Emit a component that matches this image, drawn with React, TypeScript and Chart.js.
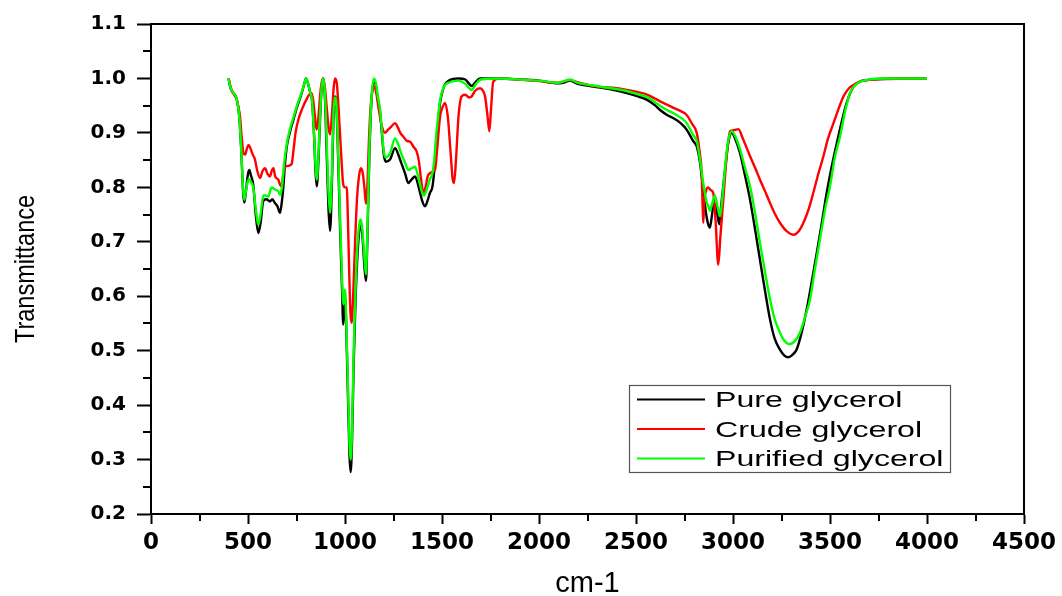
import React, { useEffect, useRef } from "react";
import { Chart, registerables } from "chart.js";

Chart.register(...registerables);

// FT-IR spectra: wavenumber (cm-1) and transmittance for each sample
const pureWavenumber = [
  400, 410, 420, 442, 455, 465, 475, 481, 490, 500, 507, 515, 527, 540, 553, 565, 579, 595, 613, 625, 639, 652, 665,
  675, 682, 690, 700, 715, 734, 755, 777, 790, 799, 810, 820, 830, 840, 848, 854, 862, 872, 880, 888, 896, 905, 915,
  923, 932, 940, 948, 956, 965, 975, 985, 991, 996, 1000, 1006, 1015, 1023, 1029, 1036, 1045, 1055, 1065, 1075, 1082,
  1090, 1100, 1108, 1115, 1125, 1135, 1149, 1160, 1170, 1180, 1190, 1200, 1210, 1232, 1258, 1275, 1290, 1310, 1326,
  1345, 1361, 1380, 1398, 1412, 1425, 1438, 1450, 1460, 1470, 1480, 1490, 1510, 1540, 1584, 1620, 1640, 1653, 1670,
  1696, 1800, 1900, 2000, 2050, 2108, 2150, 2160, 2200, 2280, 2370, 2452, 2510, 2555, 2600, 2624, 2660, 2693, 2730,
  2761, 2795, 2813, 2830, 2845, 2858, 2870, 2881, 2892, 2902, 2915, 2929, 2940, 2959, 2975, 2993, 3010, 3036, 3060,
  3088, 3115, 3139, 3165, 3191, 3215, 3242, 3265, 3285, 3305, 3328, 3355, 3380, 3405, 3432, 3458, 3483, 3510, 3535,
  3560, 3586, 3610, 3629, 3660, 3689, 3750, 3850, 4000,
];
const pureTransmittance = [
  1.0, 0.982, 0.975, 0.962, 0.93, 0.87, 0.79, 0.772, 0.795, 0.825, 0.832, 0.822, 0.805, 0.75, 0.716, 0.735, 0.775,
  0.778, 0.774, 0.778, 0.771, 0.765, 0.753, 0.775, 0.8, 0.84, 0.875, 0.9, 0.924, 0.95, 0.973, 0.99, 1.0, 0.99, 0.975,
  0.96, 0.9, 0.83, 0.802, 0.84, 0.93, 0.985, 1.0, 0.97, 0.87, 0.76, 0.72, 0.8, 0.92, 0.967, 0.95, 0.85, 0.72, 0.61,
  0.548, 0.58, 0.6, 0.55, 0.42, 0.31, 0.277, 0.33, 0.48, 0.6, 0.68, 0.725, 0.735, 0.71, 0.655, 0.628, 0.7, 0.85, 0.95,
  0.997, 0.985, 0.96, 0.94, 0.9, 0.86, 0.847, 0.851, 0.872, 0.86, 0.845, 0.825, 0.808, 0.815, 0.82, 0.8, 0.775, 0.765,
  0.775, 0.79, 0.8, 0.83, 0.88, 0.92, 0.955, 0.985, 0.997, 1.0, 0.998, 0.99, 0.986, 0.992, 1.0, 1.0, 0.998, 0.996,
  0.993, 0.991, 0.995, 0.996, 0.99, 0.985, 0.98, 0.973, 0.967, 0.961, 0.95, 0.942, 0.933, 0.927, 0.918, 0.906, 0.885,
  0.875, 0.845, 0.8, 0.76, 0.735, 0.726, 0.75, 0.771, 0.76, 0.732, 0.77, 0.832, 0.88, 0.9, 0.89, 0.863, 0.825, 0.777,
  0.72, 0.667, 0.61, 0.557, 0.522, 0.502, 0.491, 0.488, 0.492, 0.502, 0.535, 0.576, 0.625, 0.68, 0.735, 0.79, 0.84,
  0.881, 0.92, 0.955, 0.978, 0.988, 0.995, 0.997, 0.999, 1.0, 1.0,
];

const crudeWavenumber = [
  400, 410, 420, 442, 452, 459, 468, 477, 485, 495, 503, 512, 525, 536, 548, 562, 575, 588, 600, 613, 622, 631, 640,
  656, 665, 673, 680, 690, 700, 712, 725, 735, 745, 760, 780, 802, 815, 828, 836, 845, 854, 862, 872, 880, 888, 896,
  905, 915, 923, 932, 942, 950, 958, 966, 974, 982, 991, 1000, 1009, 1015, 1022, 1028, 1034, 1042, 1052, 1062, 1072,
  1082, 1092, 1100, 1108, 1115, 1125, 1135, 1149, 1160, 1172, 1185, 1196, 1206, 1220, 1235, 1258, 1270, 1285, 1301,
  1320, 1335, 1352, 1369, 1380, 1392, 1404, 1415, 1426, 1438, 1450, 1464, 1475, 1490, 1498, 1515, 1530, 1545, 1555,
  1562, 1572, 1585, 1601, 1620, 1640, 1653, 1670, 1696, 1710, 1722, 1735, 1744, 1752, 1764, 1790, 1900, 2000, 2100,
  2160, 2200, 2300, 2400, 2452, 2510, 2560, 2624, 2660, 2693, 2730, 2761, 2790, 2813, 2830, 2838, 2844, 2847, 2851,
  2862, 2872, 2885, 2898, 2910, 2924, 2935, 2950, 2968, 2985, 3005, 3028, 3050, 3088, 3115, 3139, 3165, 3191, 3215,
  3242, 3275, 3311, 3340, 3363, 3390, 3414, 3440, 3466, 3490, 3518, 3545, 3569, 3600, 3620, 3660, 3689, 3800, 4000,
];
const crudeTransmittance = [
  1.0, 0.985, 0.975, 0.961, 0.945, 0.93, 0.89, 0.862, 0.86, 0.872, 0.878, 0.872, 0.86, 0.851, 0.83, 0.817, 0.83, 0.835,
  0.825, 0.82, 0.83, 0.835, 0.82, 0.814, 0.805, 0.802, 0.82, 0.838, 0.839, 0.84, 0.843, 0.87, 0.9, 0.925, 0.945, 0.962,
  0.97, 0.973, 0.96, 0.93, 0.906, 0.925, 0.97, 0.993, 1.0, 0.985, 0.95, 0.91, 0.897, 0.93, 0.985, 1.0, 0.99, 0.95,
  0.9, 0.85, 0.805, 0.8, 0.8, 0.74, 0.64, 0.57, 0.551, 0.6, 0.7, 0.78, 0.82, 0.835, 0.825, 0.8, 0.77, 0.8, 0.9, 0.96,
  0.985, 0.975, 0.948, 0.92, 0.905, 0.9, 0.905, 0.91, 0.918, 0.912, 0.9, 0.893, 0.885, 0.884, 0.875, 0.866, 0.85,
  0.815, 0.79, 0.8, 0.82, 0.826, 0.828, 0.832, 0.87, 0.93, 0.942, 0.955, 0.93, 0.86, 0.815, 0.808, 0.85, 0.93, 0.967,
  0.97, 0.965, 0.967, 0.977, 0.982, 0.978, 0.967, 0.93, 0.903, 0.94, 0.994, 1.0, 0.998, 0.995, 0.992, 0.997, 0.993,
  0.985, 0.982, 0.979, 0.975, 0.97, 0.958, 0.952, 0.946, 0.94, 0.933, 0.916, 0.9, 0.86, 0.83, 0.76, 0.735, 0.77, 0.795,
  0.8, 0.795, 0.79, 0.74, 0.658, 0.71, 0.777, 0.86, 0.903, 0.905, 0.907, 0.89, 0.857, 0.835, 0.814, 0.793, 0.771,
  0.752, 0.735, 0.72, 0.713, 0.72, 0.735, 0.76, 0.79, 0.825, 0.857, 0.89, 0.918, 0.945, 0.967, 0.983, 0.988, 0.995,
  0.997, 0.999, 1.0,
];

const purifiedWavenumber = [
  400, 410, 420, 442, 455, 465, 475, 481, 490, 500, 507, 515, 527, 540, 553, 565, 579, 592, 605, 615, 622, 635, 645,
  656, 665, 675, 685, 700, 715, 734, 755, 777, 790, 799, 810, 820, 830, 840, 848, 854, 862, 872, 880, 888, 896, 905,
  915, 923, 932, 940, 948, 956, 965, 975, 985, 991, 996, 1000, 1006, 1015, 1023, 1029, 1036, 1045, 1055, 1065, 1075,
  1082, 1090, 1100, 1108, 1115, 1125, 1135, 1149, 1160, 1170, 1180, 1190, 1200, 1210, 1232, 1258, 1275, 1290, 1310,
  1326, 1345, 1361, 1380, 1398, 1407, 1420, 1438, 1450, 1460, 1470, 1480, 1490, 1510, 1540, 1584, 1620, 1653, 1675,
  1700, 1800, 1900, 2000, 2100, 2160, 2200, 2280, 2370, 2452, 2510, 2555, 2600, 2624, 2660, 2693, 2730, 2761, 2795,
  2813, 2830, 2850, 2865, 2873, 2881, 2893, 2907, 2920, 2933, 2945, 2960, 2975, 2993, 3010, 3036, 3060, 3088, 3115,
  3139, 3165, 3191, 3215, 3242, 3265, 3290, 3315, 3345, 3370, 3397, 3420, 3448, 3475, 3500, 3525, 3552, 3578, 3603,
  3630, 3655, 3700, 3800, 4000,
];
const purifiedTransmittance = [
  1.0, 0.983, 0.975, 0.962, 0.93, 0.87, 0.795, 0.777, 0.795, 0.812, 0.815, 0.81, 0.8, 0.76, 0.731, 0.75, 0.785, 0.785,
  0.783, 0.795, 0.8, 0.797, 0.795, 0.793, 0.786, 0.8, 0.84, 0.88, 0.905, 0.928, 0.953, 0.975, 0.99, 1.0, 0.99, 0.975,
  0.96, 0.9, 0.84, 0.814, 0.85, 0.935, 0.985, 1.0, 0.975, 0.89, 0.79, 0.753, 0.82, 0.93, 0.965, 0.95, 0.86, 0.74, 0.63,
  0.585, 0.6, 0.612, 0.56, 0.44, 0.33, 0.3, 0.35, 0.5, 0.62, 0.7, 0.735, 0.741, 0.72, 0.67, 0.64, 0.71, 0.86, 0.955,
  1.0, 0.99, 0.965, 0.945, 0.905, 0.865, 0.855, 0.862, 0.89, 0.878, 0.862, 0.845, 0.832, 0.835, 0.838, 0.815, 0.79,
  0.785, 0.795, 0.815, 0.825, 0.85, 0.895, 0.93, 0.96, 0.985, 0.993, 0.996, 0.99, 0.979, 0.99, 0.998, 1.0, 0.998,
  0.996, 0.992, 0.998, 0.992, 0.987, 0.982, 0.977, 0.971, 0.966, 0.956, 0.95, 0.942, 0.936, 0.928, 0.918, 0.896, 0.885,
  0.851, 0.8, 0.772, 0.765, 0.757, 0.77, 0.785, 0.765, 0.747, 0.78, 0.84, 0.885, 0.903, 0.895, 0.87, 0.838, 0.802,
  0.75, 0.698, 0.645, 0.594, 0.558, 0.533, 0.518, 0.512, 0.516, 0.533, 0.56, 0.594, 0.645, 0.704, 0.76, 0.802, 0.855,
  0.894, 0.94, 0.973, 0.988, 0.994, 0.998, 1.0, 1.0,
];

const seriesLabels = ["Pure glycerol", "Crude glycerol", "Purified glycerol"];
const seriesColors = ["#000000", "#ff0000", "#00ff00"];

const xTitle = "cm-1";
const yTitle = "Transmittance";

function zip(xs: number[], ys: number[]) {
  return xs.map((x, i) => ({ x, y: ys[i] }));
}

// Frame, minor ticks, condensed y title and an in-plot legend box
const decorations = {
  id: "decorations",
  afterDraw(chart: any) {
    const { ctx, chartArea, scales } = chart;
    const xs = scales.x;
    const ys = scales.y;
    ctx.save();
    ctx.strokeStyle = "#000";
    ctx.lineWidth = 2;
    // top and right frame lines
    ctx.beginPath();
    ctx.moveTo(chartArea.left, chartArea.top);
    ctx.lineTo(chartArea.right, chartArea.top);
    ctx.lineTo(chartArea.right, chartArea.bottom);
    ctx.stroke();

    // minor ticks
    ctx.beginPath();
    for (let v = 250; v < 4500; v += 500) {
      const px = Math.round(xs.getPixelForValue(v));
      ctx.moveTo(px, chartArea.bottom);
      ctx.lineTo(px, chartArea.bottom + 7);
    }
    for (let v = 0.25; v < 1.1; v += 0.1) {
      const py = Math.round(ys.getPixelForValue(v));
      ctx.moveTo(chartArea.left, py);
      ctx.lineTo(chartArea.left - 8, py);
    }
    ctx.stroke();

    // y axis title, set in a condensed face
    ctx.save();
    ctx.translate(26, (chartArea.top + chartArea.bottom) / 2);
    ctx.rotate(-Math.PI / 2);
    ctx.scale(0.84, 1);
    ctx.font = "28px 'Liberation Sans', Arial, sans-serif";
    ctx.fillStyle = "#000";
    ctx.textAlign = "center";
    ctx.textBaseline = "middle";
    ctx.fillText(yTitle, 0, 0);
    ctx.restore();

    // legend
    const box = { left: 629, top: 385, right: 950, bottom: 472 };
    ctx.lineWidth = 1.2;
    ctx.strokeStyle = "#555";
    ctx.strokeRect(box.left + 0.5, box.top + 0.5, box.right - box.left, box.bottom - box.top);
    ctx.font = "22px 'Liberation Sans', Arial, sans-serif";
    ctx.textBaseline = "alphabetic";
    ctx.textAlign = "left";
    chart.data.datasets.forEach((ds: any, i: number) => {
      const rowY = 399.5 + i * 29.5;
      ctx.strokeStyle = ds.borderColor;
      ctx.lineWidth = 2;
      ctx.beginPath();
      ctx.moveTo(637, rowY);
      ctx.lineTo(705, rowY);
      ctx.stroke();
      ctx.save();
      ctx.translate(715, rowY + 7.8);
      ctx.scale(1.46, 1);
      ctx.fillStyle = "#000";
      ctx.fillText(ds.label, 0, 0);
      ctx.restore();
    });
    ctx.restore();
  },
};

export default function App() {
  const canvasRef = useRef<HTMLCanvasElement | null>(null);

  useEffect(() => {
    const canvas = canvasRef.current;
    if (!canvas) return;
    const seriesData = [
      zip(pureWavenumber, pureTransmittance),
      zip(crudeWavenumber, crudeTransmittance),
      zip(purifiedWavenumber, purifiedTransmittance),
    ];
    const chart = new Chart(canvas, {
      type: "line",
      data: {
        datasets: seriesLabels.map((label, i) => ({
          label,
          data: seriesData[i],
          borderColor: seriesColors[i],
          backgroundColor: seriesColors[i],
          borderWidth: 2.4,
          pointRadius: 0,
          cubicInterpolationMode: "monotone" as const,
          fill: false,
          order: 3 - i,
        })),
      },
      options: {
        animation: false,
        responsive: false,
        maintainAspectRatio: false,
        layout: { padding: { top: 24, right: 38, bottom: 0, left: 0 } },
        plugins: {
          legend: { display: false },
          tooltip: { enabled: false },
        },
        scales: {
          x: {
            type: "linear",
            min: 0,
            max: 4500,
            grid: { drawOnChartArea: false, tickLength: 10, tickColor: "#000", tickWidth: 2 },
            border: { color: "#000", width: 2 },
            ticks: {
              stepSize: 500,
              color: "#000",
              padding: 5,
              maxRotation: 0,
              autoSkip: false,
              callback: (v: any) => String(v),
              font: { family: "'DejaVu Sans'", size: 23, weight: "bold" },
            },
            title: {
              display: true,
              text: xTitle,
              color: "#000",
              font: { family: "'Liberation Sans', Arial", size: 29, lineHeight: 0.8 },
              padding: { top: 0, bottom: 0 },
            },
            afterFit: (scale: any) => {
              scale.height = 82;
            },
          },
          y: {
            type: "linear",
            min: 0.2,
            max: 1.1,
            grid: { drawOnChartArea: false, tickLength: 14, tickColor: "#000", tickWidth: 2 },
            border: { color: "#000", width: 2 },
            ticks: {
              stepSize: 0.1,
              color: "#000",
              padding: 11,
              callback: (v: any) => Number(v).toFixed(1),
              font: { family: "'DejaVu Sans'", size: 20, weight: "bold" },
            },
            afterFit: (scale: any) => {
              scale.width = 151;
            },
          },
        },
      },
      plugins: [decorations],
    });
    return () => chart.destroy();
  }, []);

  return (
    <div style={{ position: "fixed", left: 0, top: 0, width: 1062, height: 596, background: "#fff" }}>
      <canvas ref={canvasRef} width={1062} height={596} style={{ width: 1062, height: 596 }} />
    </div>
  );
}
